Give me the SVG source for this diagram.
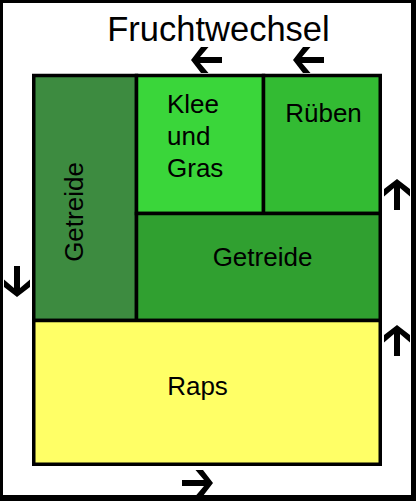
<svg xmlns="http://www.w3.org/2000/svg" xmlns:xlink="http://www.w3.org/1999/xlink" width="416" height="501" viewBox="0 0 416 501">
<defs>
<style>
.cell{stroke:#000;stroke-width:3.5}
.lbl{font-family:"Liberation Sans",Arial,sans-serif;font-size:26px;fill:#000}
.title{font-family:"Liberation Sans",Arial,sans-serif;font-size:34.5px;fill:#000}
</style>
<path id="arr" d="M0,0 L10,-13 L17.5,-13 L9,-3 L31,-3 L31,3 L9,3 L17.5,13 L10,13 Z" fill="#000"/>
</defs>
<rect x="0" y="0" width="416" height="501" fill="#000"/>
<rect x="3" y="3" width="408" height="492" fill="#fff"/>
<text class="title" x="218.5" y="41" text-anchor="middle">Fruchtwechsel</text>
<g id="getreide-links">
<rect class="cell" x="33.75" y="75.5" width="102.75" height="245" fill="#3d8b40"/>
<text class="lbl" transform="translate(83,212) rotate(-90)" text-anchor="middle">Getreide</text>
</g>
<g id="klee-gras">
<rect class="cell" x="136.5" y="75.5" width="127" height="138" fill="#3ad63a"/>
<text class="lbl" x="167" y="113" font-size="25">Klee</text>
<text class="lbl" x="167" y="145" font-size="25">und</text>
<text class="lbl" x="167" y="177" font-size="25">Gras</text>
</g>
<g id="rueben">
<rect class="cell" x="263.5" y="75.5" width="116.75" height="138" fill="#33bb33"/>
<text class="lbl" x="323.5" y="122" text-anchor="middle">Rüben</text>
</g>
<g id="getreide-mitte">
<rect class="cell" x="136.5" y="213.5" width="243.75" height="107" fill="#30a030"/>
<text class="lbl" x="262.5" y="266" text-anchor="middle">Getreide</text>
</g>
<g id="raps">
<rect class="cell" x="33.75" y="320.5" width="346.5" height="143.75" fill="#ffff66"/>
<text class="lbl" x="197.5" y="395" text-anchor="middle">Raps</text>
</g>
<g id="connectors">
<use xlink:href="#arr" transform="translate(191,60)"/>
<use xlink:href="#arr" transform="translate(293,60)"/>
<use xlink:href="#arr" transform="translate(397,179) rotate(90)"/>
<use xlink:href="#arr" transform="translate(397,325) rotate(90)"/>
<use xlink:href="#arr" transform="translate(17,297) rotate(-90)"/>
<use xlink:href="#arr" transform="translate(213,483) rotate(180)"/>
</g>
</svg>
